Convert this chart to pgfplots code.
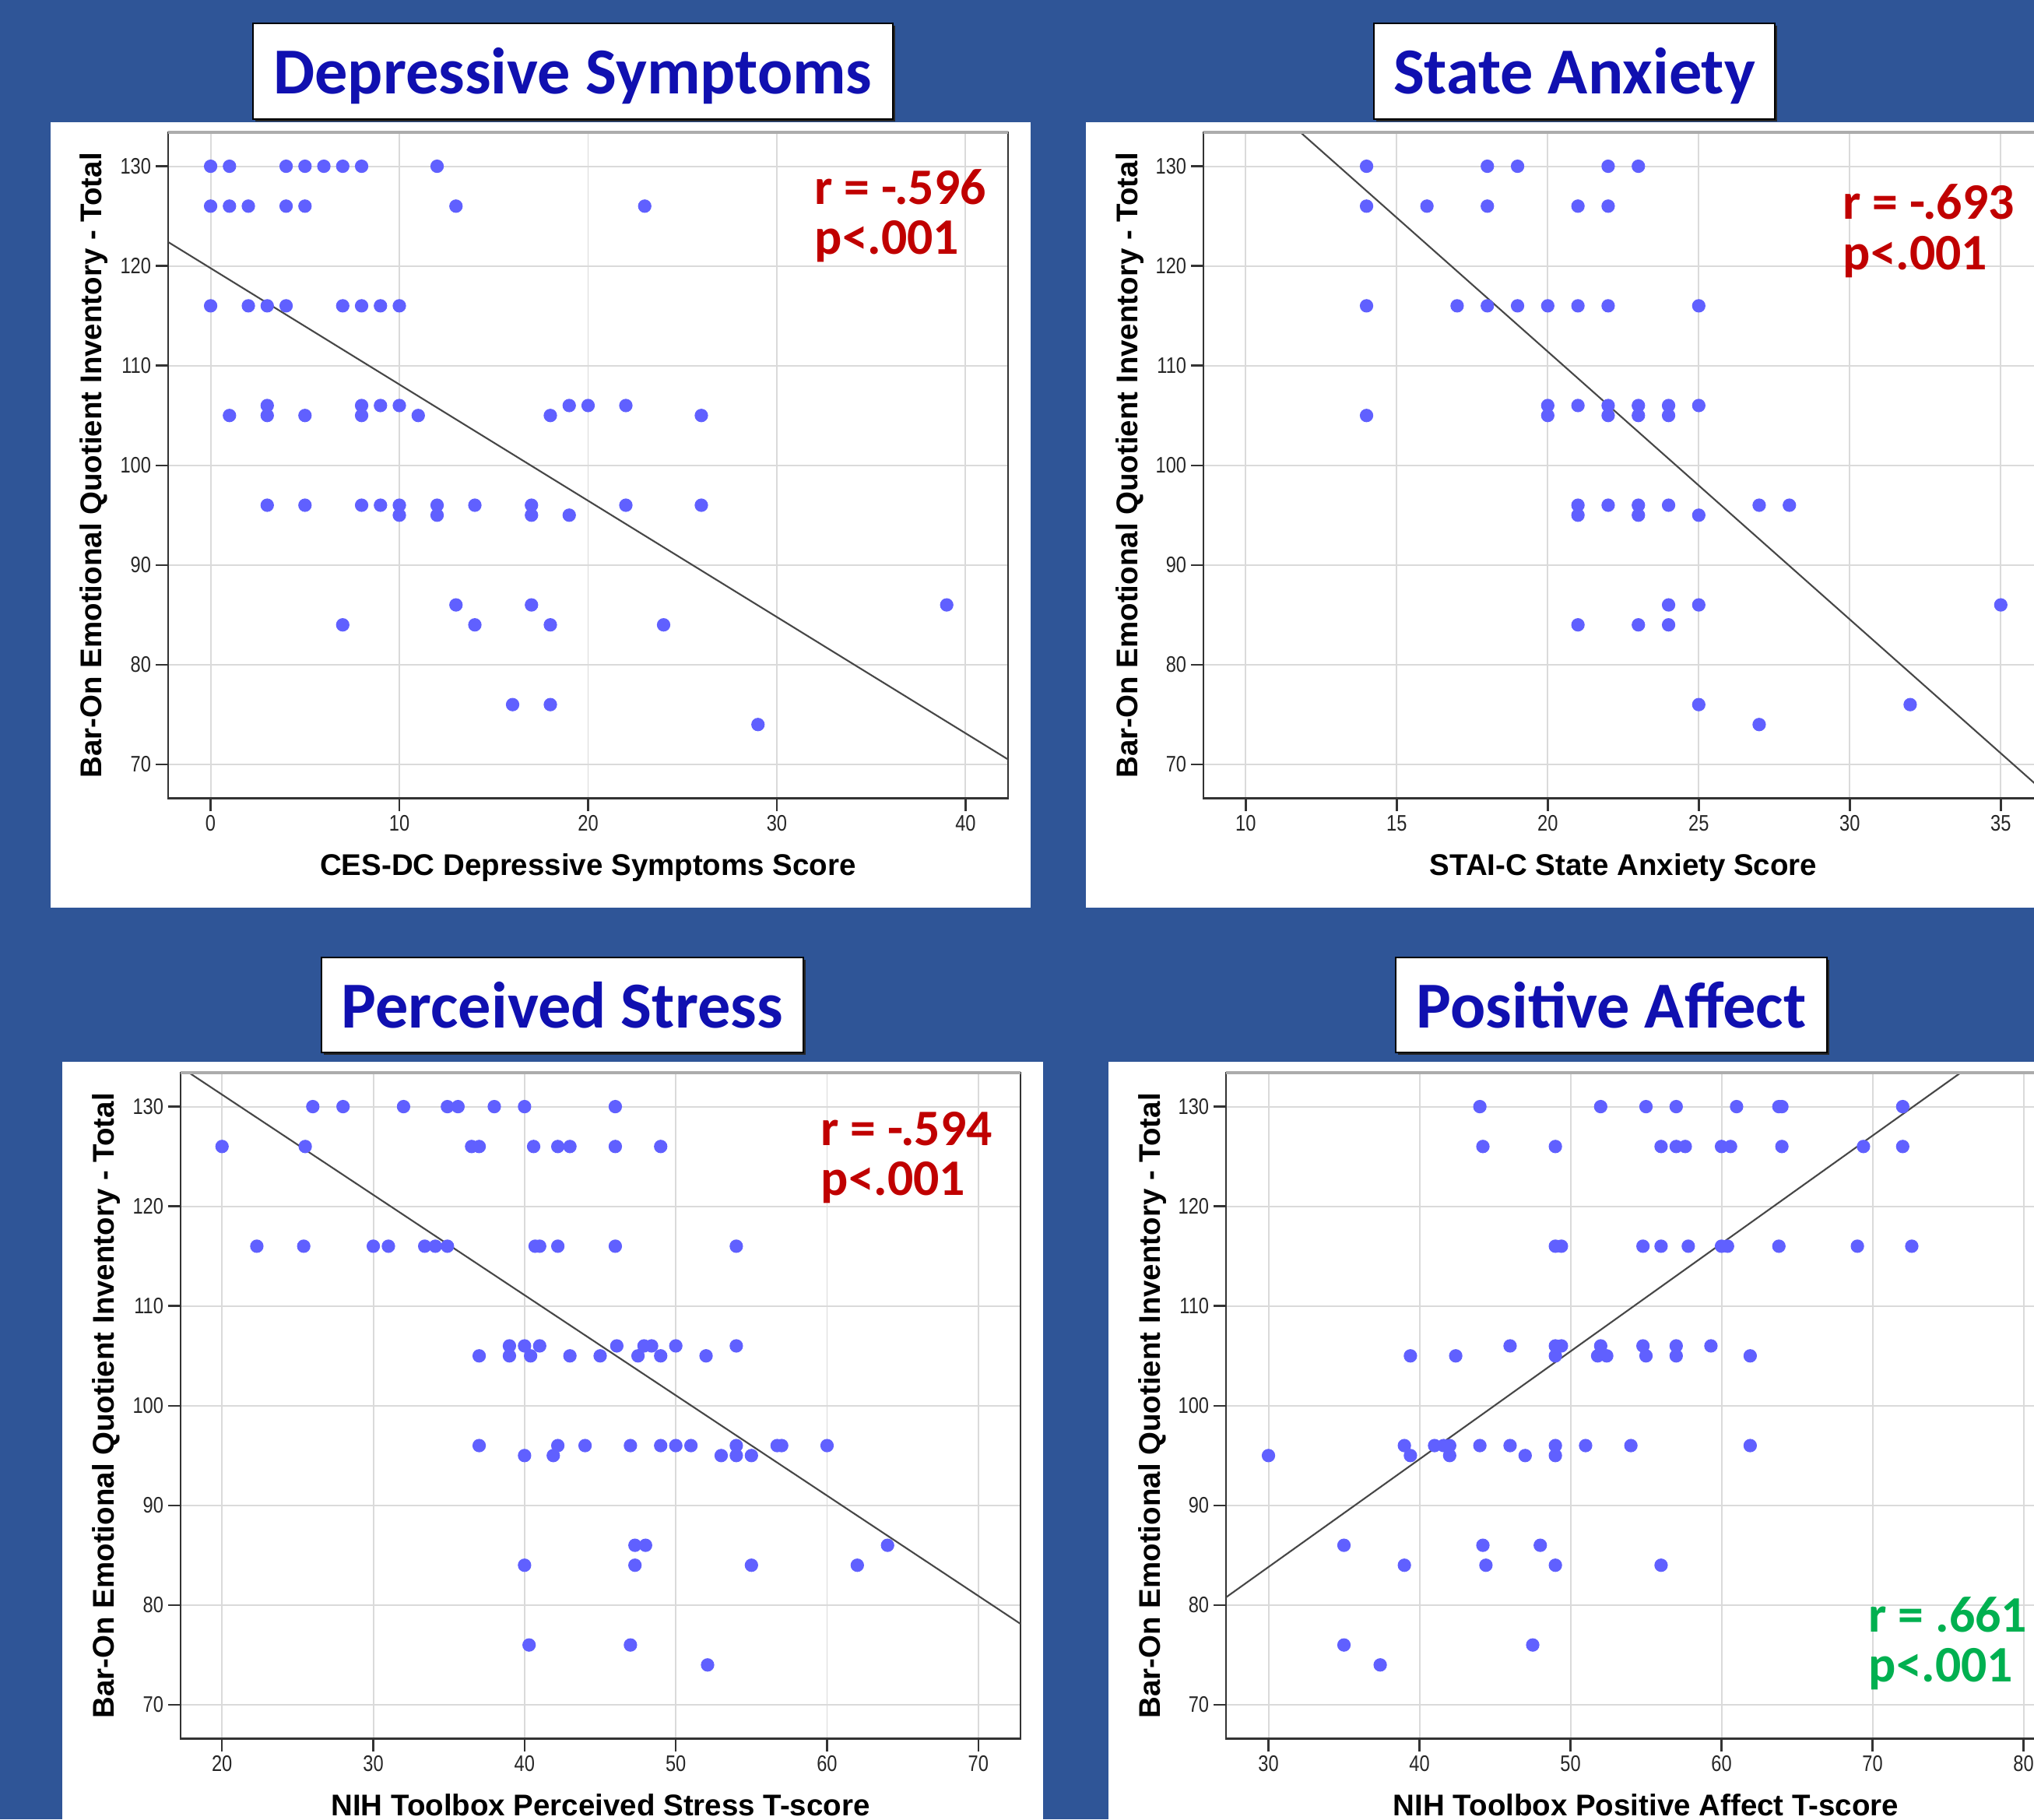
\documentclass[border=0pt]{standalone}
\usepackage{fontspec}
\setmainfont{Liberation Sans}
\newfontfamily\titlefont{Carlito}
\newfontfamily\tickfont{Liberation Sans}[FakeStretch=0.82]
\usepackage{pgfplots}
\pgfplotsset{compat=1.18}
\definecolor{bgc}{RGB}{47,85,151}
\definecolor{ttl}{RGB}{16,16,176}
\definecolor{ptc}{RGB}{96,96,255}
\definecolor{rred}{RGB}{192,0,0}
\definecolor{rgreen}{RGB}{0,176,80}
\definecolor{gridc}{RGB}{218,218,218}
\pgfplotsset{spss/.style={scale only axis, width=10.79cm, height=8.555cm, anchor=north west,
  ymin=66.6, ymax=133.4, ytick={70,80,...,130},
  grid=major, major grid style={gridc, line width=0.55pt},
  axis line style={black!80, line width=0.8pt},
  tick align=outside, tick pos=left, major tick length=0.16cm,
  tick style={black!80, line width=0.7pt},
  tick label style={font=\tickfont\fontsize{8.2}{8.2}\selectfont, text=black!85, inner sep=1.5pt},
  /pgf/number format/assume math mode=true,
  label style={font=\bfseries\fontsize{10.95}{12}\selectfont},
  xlabel style={at={(axis description cs:0.5,-0.116)}, anchor=base},
  ylabel style={at={(axis description cs:-0.0788,0.5)}, anchor=base},
  ylabel={Bar-On Emotional Quotient Inventory - Total}},
  pts/.style={only marks, mark=*, mark size=2.25pt, color=ptc},
  fit/.style={no marks, black!72, line width=0.6pt}}
\newcommand{\ttlfont}{\titlefont\bfseries\fontsize{24}{24}\selectfont\color{ttl}}
\newcommand{\rfont}{\titlefont\bfseries\fontsize{18.7}{18.7}\selectfont}
\begin{document}
\begin{tikzpicture}
\fill[bgc] (0,0) rectangle (26.13,-23.37);
% white panels
\fill[white] (0.65,-1.57) rectangle (13.24,-11.66);
\fill[white] (13.95,-1.57) rectangle (26.3,-11.66);
\fill[white] (0.80,-13.64) rectangle (13.40,-23.5);
\fill[white] (14.24,-13.64) rectangle (26.3,-23.5);
% title boxes
\foreach \a/\b/\c/\d in {3.25/-0.30/11.47/-1.53, 17.65/-0.30/22.80/-1.53, 4.13/-12.30/10.32/-13.52, 17.93/-12.30/23.47/-13.52}{
  \fill[black!85] (\a+0.03,\b-0.03) rectangle (\c+0.03,\d-0.03);
  \filldraw[fill=white, draw=black, line width=0.6pt] (\a,\b) rectangle (\c,\d);
}
\node[anchor=base, inner sep=0] at (7.36,-1.20) {\ttlfont Depressive Symptoms};
\node[anchor=base, inner sep=0] at (20.225,-1.20) {\ttlfont State Anxiety};
\node[anchor=base, inner sep=0] at (7.225,-13.20) {\ttlfont Perceived Stress};
\node[anchor=base, inner sep=0] at (20.70,-13.20) {\ttlfont Positive Affect};

% Panel 1
\begin{axis}[spss, at={(2.16cm,-1.70cm)}, xmin=-2.25, xmax=42.25, xtick={0,10,...,40},
  xlabel={CES-DC Depressive Symptoms Score}]
\addplot[pts] coordinates {
(0,130)(1,130)(4,130)(5,130)(6,130)(7,130)(8,130)(12,130)
(0,126)(1,126)(2,126)(4,126)(5,126)(13,126)(23,126)
(0,116)(2,116)(3,116)(4,116)(7,116)(8,116)(9,116)(10,116)
(3,106)(8,106)(9,106)(10,106)(19,106)(20,106)(22,106)
(1,105)(3,105)(5,105)(8,105)(11,105)(18,105)(26,105)
(3,96)(5,96)(8,96)(9,96)(10,96)(12,96)(14,96)(17,96)(22,96)(26,96)
(10,95)(12,95)(17,95)(19,95)
(13,86)(17,86)(39,86)
(7,84)(14,84)(18,84)(24,84)
(16,76)(18,76)
(29,74)};
\addplot[fit] coordinates {(-2.25,122.4) (42.25,70.5)};
\end{axis}
\draw[gray!65, line width=0.9pt] (2.16,-1.70) -- (12.95,-1.70);

% Panel 2
\begin{axis}[spss, at={(15.46cm,-1.70cm)}, xmin=8.6, xmax=36.41, xtick={10,15,...,35},
  xlabel={STAI-C State Anxiety Score}]
\addplot[pts] coordinates {
(14,130)(18,130)(19,130)(22,130)(23,130)
(14,126)(16,126)(18,126)(21,126)(22,126)
(14,116)(17,116)(18,116)(19,116)(20,116)(21,116)(22,116)(25,116)
(20,106)(21,106)(22,106)(23,106)(24,106)(25,106)
(14,105)(20,105)(22,105)(23,105)(24,105)
(21,96)(22,96)(23,96)(24,96)(27,96)(28,96)
(21,95)(23,95)(25,95)
(24,86)(25,86)(35,86)
(21,84)(23,84)(24,84)
(25,76)(32,76)
(27,74)};
\addplot[fit] coordinates {(8.6,142.03) (36.41,67.33)};
\end{axis}
\draw[gray!65, line width=0.9pt] (15.46,-1.70) -- (26.25,-1.70);

% Panel 3
\begin{axis}[spss, at={(2.32cm,-13.78cm)}, xmin=17.26, xmax=72.79, xtick={20,30,...,70},
  xlabel={NIH Toolbox Perceived Stress T-score}]
\addplot[pts] coordinates {
(26,130)(28,130)(32,130)(34.9,130)(35.6,130)(38,130)(40,130)(46,130)
(20,126)(25.5,126)(36.5,126)(37,126)(40.6,126)(42.2,126)(43,126)(46,126)(49,126)
(22.3,116)(25.4,116)(30,116)(31,116)(33.4,116)(34.1,116)(34.9,116)(40.7,116)(41,116)(42.2,116)(46,116)(54,116)
(39,106)(40,106)(41,106)(46.1,106)(47.9,106)(48.4,106)(50,106)(54,106)
(37,105)(39,105)(40.4,105)(43,105)(45,105)(47.5,105)(49,105)(52,105)
(37,96)(42.2,96)(44,96)(47,96)(49,96)(50,96)(51,96)(54,96)(56.7,96)(57,96)(60,96)
(40,95)(41.9,95)(53,95)(54,95)(55,95)
(47.3,86)(48,86)(64,86)
(40,84)(47.3,84)(55,84)(62,84)
(40.3,76)(47,76)
(52.1,74)};
\addplot[fit] coordinates {(17.26,133.96) (72.79,78.12)};
\end{axis}
\draw[gray!65, line width=0.9pt] (2.32,-13.78) -- (13.11,-13.78);

% Panel 4
\begin{axis}[spss, at={(15.75cm,-13.78cm)}, xmin=27.19, xmax=82.81, xtick={30,40,...,80},
  xlabel={NIH Toolbox Positive Affect T-score}]
\addplot[pts] coordinates {
(44,130)(52,130)(55,130)(57,130)(61,130)(63.8,130)(64,130)(72,130)
(44.2,126)(49,126)(56,126)(57,126)(57.6,126)(60,126)(60.6,126)(64,126)(69.4,126)(72,126)
(49,116)(49.4,116)(54.8,116)(56,116)(57.8,116)(60,116)(60.4,116)(63.8,116)(69,116)(72.6,116)
(46,106)(49,106)(49.4,106)(52,106)(54.8,106)(57,106)(59.3,106)
(39.4,105)(42.4,105)(49,105)(51.8,105)(52.4,105)(55,105)(57,105)(61.9,105)
(39,96)(41,96)(41.6,96)(42,96)(44,96)(46,96)(49,96)(51,96)(54,96)(61.9,96)
(30,95)(39.4,95)(42,95)(47,95)(49,95)
(35,86)(44.2,86)(48,86)
(39,84)(44.4,84)(49,84)(56,84)
(35,76)(47.5,76)
(37.4,74)};
\addplot[fit] coordinates {(27.19,80.78) (82.81,140.94)};
\end{axis}
\draw[gray!65, line width=0.9pt] (15.75,-13.78) -- (26.54,-13.78);

% r / p annotations
\node[anchor=base west, inner sep=0, text=rred] at (10.46,-2.627) {\rfont r = -.596};
\node[anchor=base west, inner sep=0, text=rred] at (10.46,-3.265) {\rfont p<.001};
\node[anchor=base west, inner sep=0, text=rred] at (23.67,-2.81) {\rfont r = -.693};
\node[anchor=base west, inner sep=0, text=rred] at (23.67,-3.46) {\rfont p<.001};
\node[anchor=base west, inner sep=0, text=rred] at (10.54,-14.716) {\rfont r = -.594};
\node[anchor=base west, inner sep=0, text=rred] at (10.54,-15.354) {\rfont p<.001};
\node[anchor=base west, inner sep=0, text=rgreen] at (24.00,-20.96) {\rfont r = .661};
\node[anchor=base west, inner sep=0, text=rgreen] at (24.00,-21.60) {\rfont p<.001};

\pgfresetboundingbox
\useasboundingbox (0,0) rectangle (26.13,-23.37);
\end{tikzpicture}
\end{document}
